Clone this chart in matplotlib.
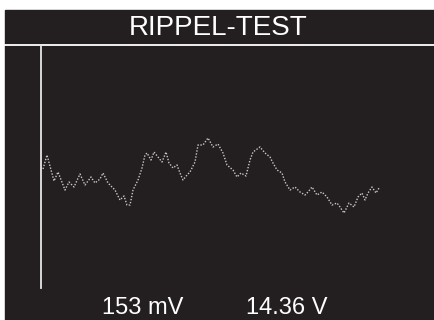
import matplotlib
matplotlib.use("Agg")
import matplotlib.pyplot as plt
from matplotlib.patches import Rectangle

plt.rcParams['font.family'] = ['Liberation Sans', 'DejaVu Sans']

# ripple trace: sample position and level (screen units above the baseline)
t = [2, 6, 13, 17, 24, 28, 33, 39, 44, 50, 54, 59, 62, 67, 74, 79, 83, 86,
     89, 92, 97, 101, 104, 106, 110, 113, 117, 121, 125, 128, 132, 136, 139,
     142, 146, 149, 154, 157, 162, 167, 172, 177, 182, 186, 192, 196, 200,
     205, 209, 212, 219, 224, 229, 232, 236, 241, 244, 249, 254, 259, 264,
     267, 271, 276, 281, 286, 291, 296, 299, 303, 308, 313, 317, 321, 324,
     327, 331, 335, 338]
v = [119, 133, 107, 116, 98, 106, 101, 114, 103, 111, 105, 109, 115, 105,
     98, 88, 92, 83, 83, 98, 108, 120, 133, 135, 128, 136, 131, 126, 136,
     125, 120, 123, 115, 108, 113, 116, 126, 143, 143, 150, 141, 144, 135,
     123, 118, 111, 115, 112, 128, 136, 141, 135, 131, 125, 118, 115, 106,
     98, 101, 96, 93, 96, 101, 93, 96, 91, 83, 85, 81, 75, 85, 81, 91, 95,
     88, 95, 101, 95, 100]

title = "RIPPEL-TEST"
ripple_label = "153 mV"
voltage_label = "14.36 V"

bg = "#231f20"

fig = plt.figure(figsize=(4.35, 3.2), dpi=100)
fig.patch.set_facecolor("white")

# dark screen area with the header separator
fig.patches.append(Rectangle((5 / 435, 0), 430 / 435, 310 / 320,
                             transform=fig.transFigure, color=bg, zorder=-5))
fig.add_artist(plt.Line2D([5 / 435, 1], [1 - 45 / 320] * 2,
                          transform=fig.transFigure, color="white", lw=1.3))

fig.text(218 / 435, 1 - 28 / 320, title, color="white", fontsize=20,
         ha="center", va="center")
fig.text(143 / 435, 1 - 308 / 320, ripple_label, color="white", fontsize=17,
         ha="center", va="center")
fig.text(287 / 435, 1 - 308 / 320, voltage_label, color="white", fontsize=17,
         ha="center", va="center")

ax = fig.add_axes([41 / 435, 32 / 320, 394 / 435, 243 / 320])
ax.set_zorder(2)
ax.patch.set_visible(False)
ax.set_xlim(0, 394)
ax.set_ylim(0, 243)
for side in ("top", "right", "bottom"):
    ax.spines[side].set_visible(False)
ax.spines["left"].set_color("#e6e6e6")
ax.spines["left"].set_linewidth(1.3)
ax.set_xticks([])
ax.set_yticks([])

ax.plot(t, v, color="#c8c8c8", lw=1.0, linestyle=(0, (1, 1.2)))

fig.savefig("out.png", dpi=100)
